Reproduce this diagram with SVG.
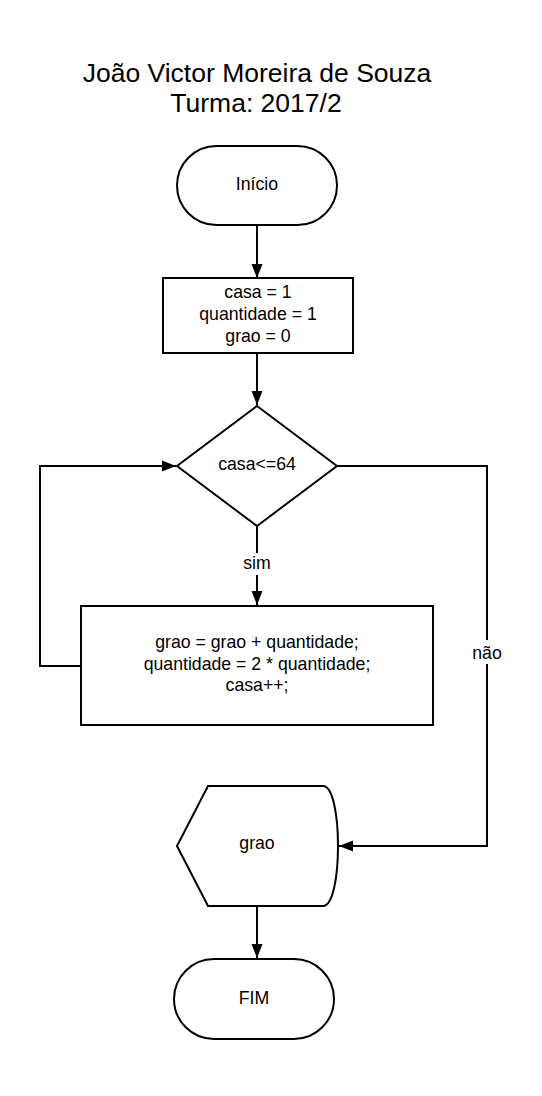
<svg xmlns="http://www.w3.org/2000/svg" width="542" height="1096" viewBox="0 0 542 1096">
<defs>
<marker id="arr" markerWidth="14" markerHeight="14" viewBox="0 0 14 14" refX="14" refY="7" orient="auto" markerUnits="userSpaceOnUse">
<path d="M0,1.5 L14,7 L0,12.5 Z" fill="#000"/>
</marker>
</defs>
<style>
.shape{fill:#fff;stroke:#000;stroke-width:2}
.conn{fill:none;stroke:#000;stroke-width:2;marker-end:url(#arr)}
text{font-family:"Liberation Sans",Arial,sans-serif;font-size:17.7px;fill:#000;text-anchor:middle}
.title{font-size:26.5px}
</style>
<rect width="542" height="1096" fill="#fff"/>
<g id="title">
<text class="title" x="257" y="82">João Victor Moreira de Souza</text>
<text class="title" x="256" y="112">Turma: 2017/2</text>
</g>
<g id="connectors">
<path class="conn" d="M257,225 L257,278"/>
<path class="conn" d="M257,353 L257,405"/>
<path class="conn" d="M257,526 L257,605"/>
<path class="conn" d="M81,666 L40,666 L40,466 L176,466"/>
<path class="conn" d="M337,466 L487,466 L487,846 L339,846"/>
<path class="conn" d="M257,906 L257,958"/>
<rect x="240" y="553" width="34" height="22" fill="#fff"/>
<text x="257" y="569">sim</text>
<rect x="470" y="640" width="34" height="24" fill="#fff"/>
<text x="487" y="659">não</text>
</g>
<g id="inicio">
<rect class="shape" x="177" y="146" width="160" height="79" rx="39.5" ry="39.5"/>
<text x="257" y="190">Início</text>
</g>
<g id="init">
<rect class="shape" x="163" y="278" width="190" height="75"/>
<text x="258" y="298">casa = 1</text>
<text x="258" y="320">quantidade = 1</text>
<text x="258" y="342">grao = 0</text>
</g>
<g id="decision">
<path class="shape" d="M257,406 L337,466 L257,526 L177,466 Z"/>
<text x="257" y="470">casa&lt;=64</text>
</g>
<g id="loop">
<rect class="shape" x="81" y="606" width="352" height="119"/>
<text x="257" y="648">grao = grao + quantidade;</text>
<text x="257" y="670">quantidade = 2 * quantidade;</text>
<text x="257" y="691">casa++;</text>
</g>
<g id="display">
<path class="shape" d="M208,786 L323,786 C333,786 338,816 338,846 C338,876 333,906 323,906 L208,906 L177,846 Z"/>
<text x="257" y="849">grao</text>
</g>
<g id="fim">
<rect class="shape" x="174" y="959" width="160" height="80" rx="40" ry="40"/>
<text x="254" y="1004">FIM</text>
</g>
</svg>
